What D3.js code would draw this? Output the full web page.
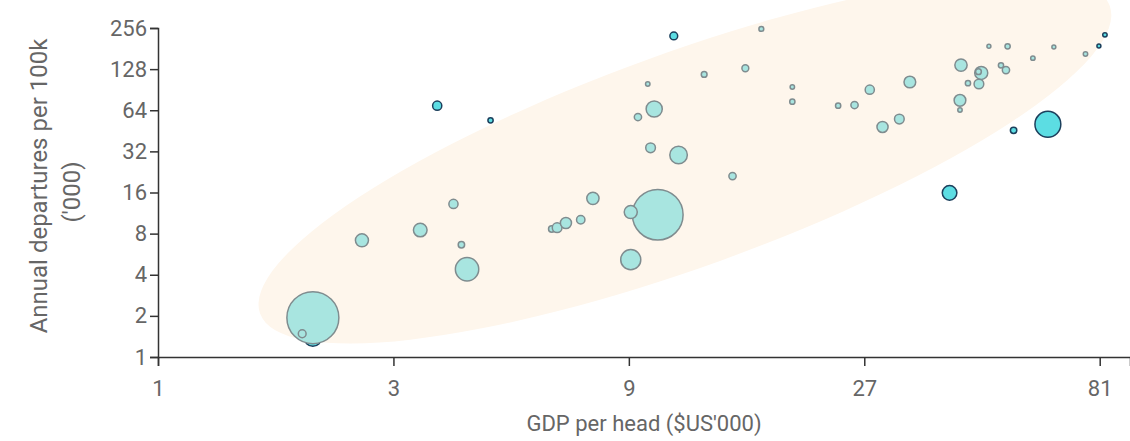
<!DOCTYPE html>
<html>
<head>
<meta charset="utf-8">
<script src="https://cdn.jsdelivr.net/npm/d3@7"></script>
<style>
  html, body { margin: 0; padding: 0; background: #fff; overflow: hidden; }
  svg { display: block; }
  text { font-family: Roboto, "Noto Sans", sans-serif; }
</style>
</head>
<body>
<div id="chart"></div>
<script>
// ---- data ----
const xTicks = [1, 3, 9, 27, 81];
const yTicks = [1, 2, 4, 8, 16, 32, 64, 128, 256];
const xDomain = [1, 93.3];
const yDomain = [1, 256];

// regular countries: GDP per head ($US'000), departures per 100k ('000), population (m)
const gdp = [2.06, 1.96, 2.59, 3.40, 3.97, 4.12, 4.23, 6.28, 6.44, 6.71, 7.19, 7.61, 10.3, 9.08, 9.08,
  9.96, 11.35, 10.13, 9.39, 9.83, 12.79, 15.5, 14.6, 16.7, 19.3, 19.3, 23.9, 25.8, 27.7, 33.4,
  29.4, 31.8, 42.4, 46.6, 46.0, 43.8, 46.1, 51.1, 52.3, 48.3, 52.7, 59.3, 65.4, 75.8, 42.2, 42.2];
const departures = [1.94, 1.48, 7.15, 8.5, 13.2, 6.64, 4.39, 8.65, 8.84, 9.57, 10.1, 14.5, 11.0, 11.5, 5.16,
  34.0, 30.1, 65.4, 57.1, 99.6, 117, 130, 21.1, 252, 94.7, 73.9, 69.1, 69.9, 90.5, 103,
  48.3, 55.2, 137, 120, 122.6, 101, 99.6, 136.5, 126, 188, 188, 154, 186, 165, 75.7, 64.3];
const population = [1380, 31, 87, 95, 43, 21, 279, 21, 48, 63, 36, 77, 1310, 87, 205,
  48, 157, 133, 27, 10, 17, 24, 27, 12, 10, 14, 14, 27, 43, 70,
  63, 48, 77, 87, 17, 14, 48, 14, 27, 8, 14, 10, 8, 10, 70, 10];

// highlighted countries
const hlGdp = [2.06, 3.68, 4.72, 11.1, 40.2, 54.2, 63.6, 83.0, 80.7];
const hlDepartures = [1.39, 69.1, 54.0, 224, 15.9, 45.6, 50.5, 228, 189];
const hlPopulation = [157, 43, 14, 31, 109, 21, 342, 10, 8];

// trend band (ellipse major-axis ends, in data units)
const bandGdp = [1.61, 84.9];
const bandDepartures = [2.08, 371];

// ---- chart ----
const W = 1130, H = 441;
const svg = d3.select("#chart").append("svg").attr("width", W).attr("height", H);

const x = d3.scaleLog().base(3).domain(xDomain).range([158, 1130]);
const y = d3.scaleLog().base(2).domain(yDomain).range([357, 28]);
const r = d3.scaleSqrt().domain([0, 1380]).range([0, 26]);

// ellipse band
{
  const x1 = x(bandGdp[0]), y1 = y(bandDepartures[0]);
  const x2 = x(bandGdp[1]), y2 = y(bandDepartures[1]);
  const cx = (x1 + x2) / 2, cy = (y1 + y2) / 2;
  const a = Math.hypot(x2 - x1, y2 - y1) / 2;
  const ang = Math.atan2(y2 - y1, x2 - x1) * 180 / Math.PI;
  svg.append("ellipse")
    .attr("cx", cx).attr("cy", cy)
    .attr("rx", a).attr("ry", 107)
    .attr("transform", `rotate(${ang},${cx},${cy})`)
    .attr("fill", "#fef6ec");
}

// axes
const xAxis = d3.axisBottom(x).tickValues(xTicks).tickFormat(d3.format("d")).tickSize(9).tickPadding(14);
const yAxis = d3.axisLeft(y).tickValues(yTicks).tickFormat(d3.format("d")).tickSize(8).tickPadding(3);

const gx = svg.append("g").attr("transform", "translate(0,357)").call(xAxis);
const gy = svg.append("g").attr("transform", "translate(158,0)").call(yAxis);
[gx, gy].forEach(g => {
  g.select(".domain").attr("stroke", "#333").attr("stroke-width", 1.5);
  g.selectAll(".tick line").attr("stroke", "#333").attr("stroke-width", 1.5);
  g.selectAll(".tick text").attr("fill", "#666").style("font-size", "22px").style("font-family", "Roboto");
});

// axis titles
svg.append("text")
  .attr("x", 644).attr("y", 431)
  .attr("text-anchor", "middle")
  .attr("fill", "#666").style("font-size", "22px")
  .text("GDP per head ($US'000)");

const yt = svg.append("text")
  .attr("transform", "translate(0,186) rotate(-90)")
  .attr("text-anchor", "middle")
  .attr("fill", "#666").style("font-size", "24px");
yt.append("tspan").attr("x", 0).attr("y", 47).text("Annual departures per 100k");
yt.append("tspan").attr("x", 0).attr("y", 80).attr("dx", -6).text("('000)");

// bubbles
const hl = hlGdp.map((g, i) => ({ g, d: hlDepartures[i], p: hlPopulation[i] }));
const reg = gdp.map((g, i) => ({ g, d: departures[i], p: population[i] }));

svg.append("g").selectAll("circle").data(hl).join("circle")
  .attr("cx", d => x(d.g)).attr("cy", d => y(d.d)).attr("r", d => r(d.p))
  .attr("fill", "#5cdde3").attr("stroke", "#1c3f5c").attr("stroke-width", 1.5);

svg.append("g").selectAll("circle").data(reg).join("circle")
  .attr("cx", d => x(d.g)).attr("cy", d => y(d.d)).attr("r", d => r(d.p))
  .attr("fill", "#a8e5e0")
  .attr("stroke", "#7f8c8f").attr("stroke-width", 1.5);
</script>
</body>
</html>
